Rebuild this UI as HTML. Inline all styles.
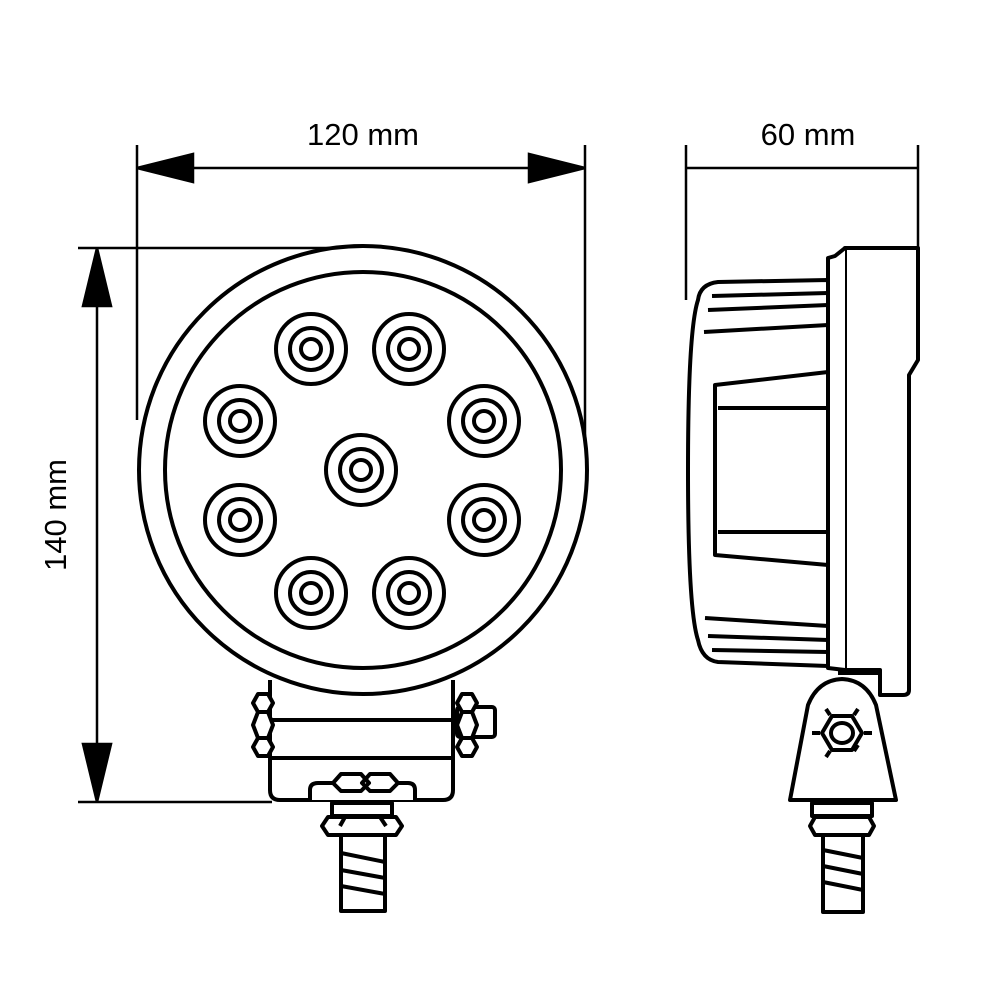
<!DOCTYPE html>
<html><head><style>body{margin:0;background:#fff}svg{display:block}</style></head><body>
<svg width="1000" height="1000" viewBox="0 0 1000 1000" xmlns="http://www.w3.org/2000/svg">
<g stroke="#000" stroke-width="2.5" fill="none">
<line x1="137" y1="145" x2="137" y2="420"/>
<line x1="585" y1="145" x2="585" y2="450"/>
<line x1="137" y1="168" x2="585" y2="168"/>
<path d="M137,168 L193,154 L193,182 z M585,168 L529,154 L529,182 z" fill="#000"/>
<line x1="686" y1="145" x2="686" y2="300"/>
<line x1="918" y1="145" x2="918" y2="250"/>
<line x1="686" y1="168" x2="918" y2="168"/>
<line x1="78" y1="248" x2="330" y2="248"/>
<line x1="78" y1="802" x2="272" y2="802"/>
<line x1="97" y1="248" x2="97" y2="802"/>
<path d="M97,248 L83,306 L111,306 z M97,802 L83,744 L111,744 z" fill="#000"/>
</g>
<g font-family="Liberation Sans, sans-serif" font-size="31" fill="#000" text-anchor="middle">
<text x="363" y="145">120 mm</text>
<text x="808" y="145">60 mm</text>
<text transform="translate(66,515) rotate(-90)">140 mm</text>
</g>
<g stroke="#000" stroke-width="4" fill="#fff" stroke-linejoin="round">
<path d="M270,680 L270,790 Q270,800 280,800 L443,800 Q453,800 453,790 L453,680"/>
<line x1="270" y1="720" x2="453" y2="720"/>
<line x1="270" y1="758" x2="453" y2="758"/>
<circle cx="363" cy="470" r="224"/>
<circle cx="363" cy="470" r="198"/>
<rect x="457" y="707" width="38" height="30" rx="3"/>
<path d="M258,694 l10,0 l5,9 l-5,9 l-10,0 l-5,-9z M258,712 l10,0 l5,13 l-5,13 l-10,0 l-5,-13z M258,738 l10,0 l5,9 l-5,9 l-10,0 l-5,-9z"/>
<path d="M462,694 l10,0 l5,9 l-5,9 l-10,0 l-5,-9z M462,712 l10,0 l5,13 l-5,13 l-10,0 l-5,-13z M462,738 l10,0 l5,9 l-5,9 l-10,0 l-5,-9z"/>
<path d="M310,800 L310,790 Q310,783 318,783 L408,783 Q415,783 415,790 L415,800"/>
<path d="M333,783 l8,-9 h20 l8,9 l-8,8 h-20z M362,783 l8,-9 h20 l8,9 l-8,8 h-20z"/>
<rect x="332" y="803" width="60" height="13"/>
<path d="M322,826 l6,-9 h68 l6,9 l-6,9 h-68z"/>
<line x1="345" y1="817" x2="340" y2="826"/><line x1="380" y1="817" x2="386" y2="826"/>
<rect x="341" y="835" width="44" height="76"/>
<path d="M341,853 L385,862 M341,870 L385,878 M341,886 L385,894" />
<g transform="translate(311,349)"><circle r="35"/><circle r="21"/><circle r="10"/></g>
<g transform="translate(409,349)"><circle r="35"/><circle r="21"/><circle r="10"/></g>
<g transform="translate(240,421)"><circle r="35"/><circle r="21"/><circle r="10"/></g>
<g transform="translate(484,421)"><circle r="35"/><circle r="21"/><circle r="10"/></g>
<g transform="translate(361,470)"><circle r="35"/><circle r="21"/><circle r="10"/></g>
<g transform="translate(240,520)"><circle r="35"/><circle r="21"/><circle r="10"/></g>
<g transform="translate(484,520)"><circle r="35"/><circle r="21"/><circle r="10"/></g>
<g transform="translate(311,593)"><circle r="35"/><circle r="21"/><circle r="10"/></g>
<g transform="translate(409,593)"><circle r="35"/><circle r="21"/><circle r="10"/></g>
</g>
<g stroke="#000" stroke-width="4" fill="#fff" stroke-linejoin="round">
<path d="M828,280 L718,282 Q700,284 698,300 Q688,330 688,470 Q688,610 698,640 Q702,660 718,662 L828,666 z"/>
<path d="M828,293 L712,296 M828,305 L708,310 M828,325 L704,332 M828,626 L705,618 M828,640 L708,636 M828,652 L712,650" fill="none"/>
<path d="M828,372 L715,385 L715,555 L828,565" />
<line x1="718" y1="408" x2="828" y2="408"/>
<line x1="718" y1="532" x2="828" y2="532"/>
<path d="M845,248 L918,248 L918,360 L909,375 L909,690 Q909,695 903,695 L880,695 L880,670 L845,670z"/>
<path d="M845,248 L835,256 L828,258 L828,668 L845,670"/>
<path d="M838,673 L880,673 L880,690"/>
<path d="M790,800 L808,705 Q818,680 842,679 Q866,680 876,705 L896,800 z"/>
<path d="M822,733 l10,-17 h20 l10,17 l-10,17 h-20z"/>
<ellipse cx="842" cy="733" rx="11" ry="10"/>
<path d="M812,733 h8 M864,733 h8 M830,715 l-4,-6 M854,715 l4,-6 M830,751 l-4,6 M854,751 l4,-6" fill="none"/>
<rect x="812" y="803" width="60" height="13"/>
<path d="M810,826 l5,-9 h54 l5,9 l-5,9 h-54z"/>
<rect x="823" y="835" width="40" height="77"/>
<path d="M823,850 L863,858 M823,866 L863,874 M823,882 L863,890" />
</g>
</svg>
</body></html>
